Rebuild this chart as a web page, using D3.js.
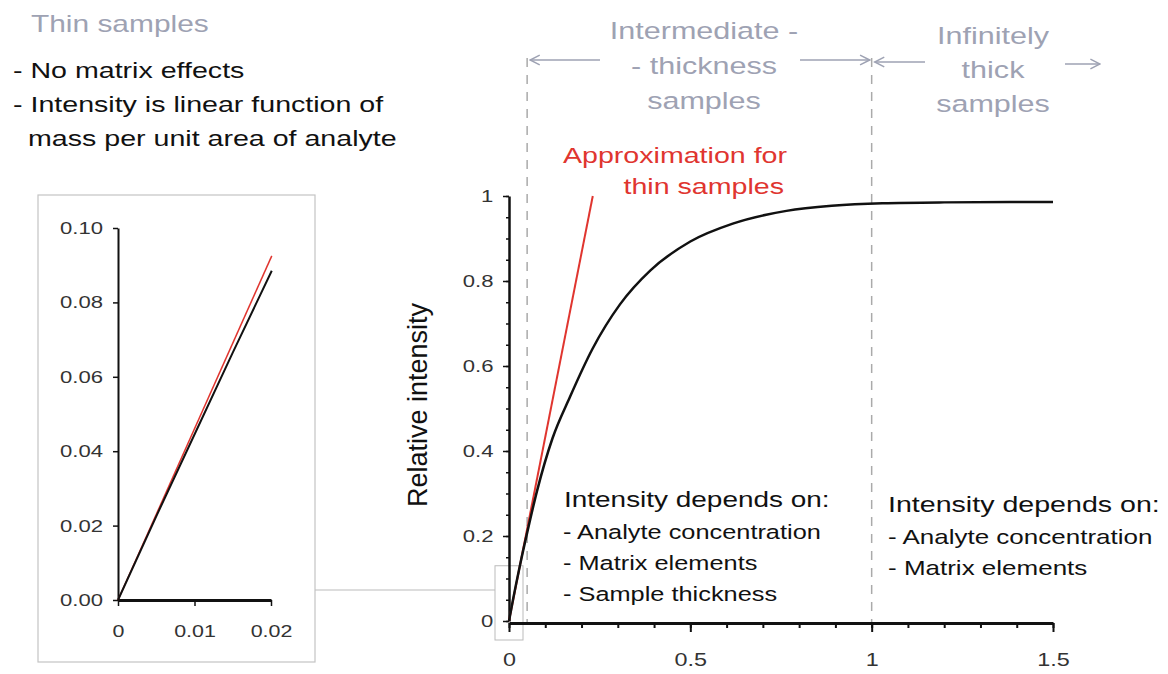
<!doctype html>
<html lang="en">
<head>
<meta charset="UTF-8">
<script src="https://d3js.org/d3.v7.min.js"></script>
<style>
  body { margin: 0; background: #fff; }
  text { font-family: "Liberation Sans", Arial, sans-serif; }
  .tick text { fill: #333; }
</style>
</head>
<body>
<svg id="chart" width="1168" height="674"></svg>
<script>
// main curve: relative intensity vs thickness
var thickness = [0, 0.011, 0.03, 0.052, 0.077, 0.12, 0.168, 0.23, 0.306, 0.39, 0.5, 0.617, 0.765, 0.89, 1.03, 1.2, 1.5];
var intensity = [0, 0.05, 0.13, 0.215, 0.305, 0.43, 0.527, 0.64, 0.745, 0.825, 0.893, 0.935, 0.965, 0.977, 0.983, 0.985, 0.986];
// red thin-sample approximation
var approxX = [0, 0.231];
var approxY = [0, 1.0];
// inset (zoom on thin region)
var insetX = [0, 0.005, 0.01, 0.015, 0.0201];
var insetBlack = [0, 0.0225, 0.0445, 0.0665, 0.0885];
var insetRedX = [0, 0.0201];
var insetRedY = [0, 0.0925];
// tick labels
var mainXTicks = [0, 0.5, 1, 1.5];
var mainYTicks = [0, 0.2, 0.4, 0.6, 0.8, 1];
var insetXTicks = [0, 0.01, 0.02];
var insetYTicks = [0, 0.02, 0.04, 0.06, 0.08, 0.1];
// region boundaries
var boundaries = [0.05, 1.0];

var svg = d3.select("#chart");
svg.append("rect").attr("width", 1168).attr("height", 674).attr("fill", "#fff");

var gray = "#9ea2b3";
var red = "#e0352f";
var stretch = 1.3; // the slide text is drawn wide

// ---------- main chart ----------
var x = d3.scaleLinear().domain([0, 1.5]).range([509, 1053]);
var y = d3.scaleLinear().domain([0, 1]).range([621, 196]);

// dashed boundaries
svg.selectAll(".bound")
    .data(boundaries)
    .enter()
    .append("line")
    .attr("x1", function (d) { return x(d); })
    .attr("x2", function (d) { return x(d); })
    .attr("y1", 58)
    .attr("y2", 624)
    .attr("stroke", "#aaa")
    .attr("stroke-width", 1.5)
    .attr("stroke-dasharray", "9,8");

// small zoom box and connector
svg.append("rect")
    .attr("x", x(0) - 14).attr("y", y(0.13))
    .attr("width", 28).attr("height", 640 - y(0.13))
    .attr("fill", "none").attr("stroke", "#bbb").attr("stroke-width", 1);
svg.append("line")
    .attr("x1", 315).attr("x2", x(0) - 14)
    .attr("y1", 590).attr("y2", 590)
    .attr("stroke", "#bbb").attr("stroke-width", 1);

// axes
var yMinor = svg.append("g")
    .attr("transform", "translate(" + x(0) + ",0)")
    .call(d3.axisLeft(y).tickValues(d3.range(0, 1.001, 0.05)).tickSize(3).tickFormat(""));
yMinor.select(".domain").remove();
yMinor.selectAll("line").attr("stroke", "#111").attr("stroke-width", 1.5);

var yAxis = svg.append("g")
    .attr("transform", "translate(" + x(0) + ",0)")
    .call(d3.axisLeft(y).tickValues(mainYTicks).tickSize(6).tickSizeOuter(0).tickPadding(6)
        .tickFormat(function (d) { return d === 0 || d === 1 ? d : d3.format(".1f")(d); }));
yAxis.select(".domain").attr("stroke", "#111").attr("stroke-width", 2.5);
yAxis.selectAll("line").attr("stroke", "#111").attr("stroke-width", 1.5);
yAxis.selectAll("text").attr("font-size", 17).attr("transform", "scale(" + stretch + ",1)");

var xMinor = svg.append("g")
    .attr("transform", "translate(0," + (y(0) + 2) + ")")
    .call(d3.axisBottom(x).tickValues(d3.range(0, 1.501, 0.1)).tickSize(5).tickFormat(""));
xMinor.select(".domain").remove();
xMinor.selectAll("line").attr("stroke", "#111").attr("stroke-width", 2);

var xAxis = svg.append("g")
    .attr("transform", "translate(0," + (y(0) + 2) + ")")
    .call(d3.axisBottom(x).tickValues(mainXTicks).tickSize(9).tickSizeOuter(0).tickPadding(21)
        .tickFormat(function (d) { return d; }));
xAxis.select(".domain").attr("stroke", "#111").attr("stroke-width", 3);
xAxis.selectAll("line").attr("stroke", "#111").attr("stroke-width", 2);
xAxis.selectAll("text").attr("font-size", 18).attr("transform", "scale(" + stretch + ",1)");

// y label
svg.append("text")
    .attr("transform", "translate(427,405) rotate(-90)")
    .attr("text-anchor", "middle")
    .attr("font-size", 27)
    .attr("fill", "#111")
    .text("Relative intensity");

// curve
var mainLine = d3.line()
    .x(function (d) { return x(d[0]); })
    .y(function (d) { return y(d[1]); })
    .curve(d3.curveMonotoneX);

svg.append("path")
    .datum(d3.zip(approxX, approxY))
    .attr("d", mainLine)
    .attr("fill", "none")
    .attr("stroke", red)
    .attr("stroke-width", 2);

svg.append("path")
    .datum(d3.zip(thickness, intensity))
    .attr("d", mainLine)
    .attr("fill", "none")
    .attr("stroke", "#111")
    .attr("stroke-width", 2.5);

// ---------- region headers with arrows ----------
var defs = svg.append("defs");
defs.append("marker")
    .attr("id", "arr")
    .attr("viewBox", "0 0 10 10")
    .attr("refX", 9).attr("refY", 5)
    .attr("markerWidth", 8).attr("markerHeight", 8)
    .attr("orient", "auto-start-reverse")
    .append("path")
    .attr("d", "M1,1 L9,5 L1,9")
    .attr("fill", "none")
    .attr("stroke", gray)
    .attr("stroke-width", 1.2);

var arrows = [
    [x(0.05) + 3, 600, 60, true],
    [800, x(1) - 2, 60, false],
    [x(1) + 3, 925, 62, true],
    [1065, 1100, 64, false]
];
arrows.forEach(function (a) {
    var l = svg.append("line")
        .attr("x1", a[0]).attr("x2", a[1])
        .attr("y1", a[2]).attr("y2", a[2])
        .attr("stroke", gray).attr("stroke-width", 1.5);
    if (a[3]) l.attr("marker-start", "url(#arr)");
    else l.attr("marker-end", "url(#arr)");
});

function block(lines, xPos, y0, dy, anchor, size, color) {
    svg.append("g").selectAll("text")
        .data(lines)
        .enter()
        .append("text")
        .attr("transform", function (d, i) {
            return "translate(" + xPos + "," + (y0 + i * dy) + ") scale(" + stretch + ",1)";
        })
        .attr("text-anchor", anchor)
        .attr("font-size", size)
        .attr("fill", color)
        .text(function (d) { return d; });
}

block(["Intermediate -", "- thickness", "samples"], 704, 39, 35, "middle", 23.5, gray);
block(["Infinitely", "thick", "samples"], 993, 44, 34, "middle", 23.5, gray);
block(["Approximation for"], 675, 163, 0, "middle", 22, red);
block(["thin samples"], 784, 194, 0, "end", 22, red);

block(["Intensity depends on:"], 564, 507, 0, "start", 21.5, "#111");
block(["- Analyte concentration", "- Matrix elements", "- Sample thickness"],
    563, 539, 31, "start", 19.5, "#111");
block(["Intensity depends on:"], 888, 512, 0, "start", 22, "#111");
block(["- Analyte concentration", "- Matrix elements"],
    888, 544, 31, "start", 20, "#111");

// ---------- top-left notes ----------
block(["Thin samples"], 31, 32, 0, "start", 23, gray);
block(["- No matrix effects", "- Intensity is linear function of"], 13, 78, 34, "start", 22, "#111");
block(["mass per unit area of analyte"], 28, 146, 0, "start", 22, "#111");

// ---------- inset ----------
svg.append("rect")
    .attr("x", 38).attr("y", 195)
    .attr("width", 277).attr("height", 467)
    .attr("fill", "none").attr("stroke", "#c4c4c4").attr("stroke-width", 1.2);

var ix = d3.scaleLinear().domain([0, 0.02]).range([118, 271]);
var iy = d3.scaleLinear().domain([0, 0.1]).range([600, 228]);

var iyAxis = svg.append("g")
    .attr("transform", "translate(" + ix(0) + ",0)")
    .call(d3.axisLeft(iy).tickValues(insetYTicks).tickSize(5).tickSizeOuter(0).tickPadding(6.5)
        .tickFormat(d3.format(".2f")));
iyAxis.select(".domain").attr("stroke", "#111").attr("stroke-width", 2);
iyAxis.selectAll("line").attr("stroke", "#111").attr("stroke-width", 1.5);
iyAxis.selectAll("text").attr("font-size", 17).attr("transform", "scale(" + stretch + ",1)");

var ixAxis = svg.append("g")
    .attr("transform", "translate(0," + iy(0) + ")")
    .call(d3.axisBottom(ix).tickValues(insetXTicks).tickSize(6).tickSizeOuter(0).tickPadding(19)
        .tickFormat(function (d) { return d === 0 ? "0" : d3.format(".2f")(d); }));
ixAxis.select(".domain").attr("stroke", "#111").attr("stroke-width", 3);
ixAxis.selectAll("line").attr("stroke", "#111").attr("stroke-width", 1.5);
ixAxis.selectAll("text").attr("font-size", 16.5).attr("transform", "scale(" + stretch + ",1)");

var insetLine = d3.line()
    .x(function (d) { return ix(d[0]); })
    .y(function (d) { return iy(d[1]); });

svg.append("path")
    .datum(d3.zip(insetRedX, insetRedY))
    .attr("d", insetLine)
    .attr("fill", "none")
    .attr("stroke", red)
    .attr("stroke-width", 1.5);

svg.append("path")
    .datum(d3.zip(insetX, insetBlack))
    .attr("d", insetLine)
    .attr("fill", "none")
    .attr("stroke", "#111")
    .attr("stroke-width", 2);
</script>
</body>
</html>
